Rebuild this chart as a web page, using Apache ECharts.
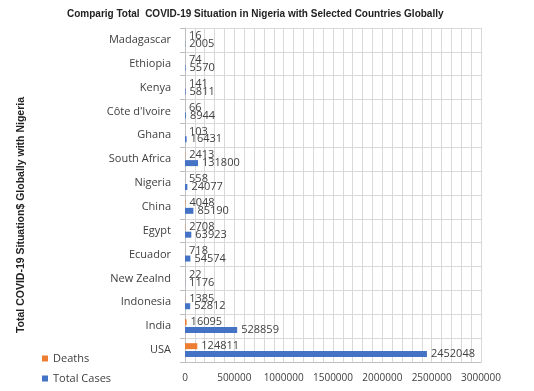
<!DOCTYPE html>
<html><head><meta charset="utf-8">
<script src="https://cdn.jsdelivr.net/npm/echarts@6/dist/echarts.min.js"></script>
<style>html,body{margin:0;padding:0;background:#fff}#c{width:534px;height:391px}</style>
</head><body><div id="c"></div>
<script>
var countries = ['USA','India','Indonesia','New Zealnd','Ecuador','Egypt','China','Nigeria','South Africa','Ghana',"Côte d'Ivoire",'Kenya','Ethiopia','Madagascar'];
var deaths = [124811,16095,1385,22,718,2708,4048,558,2413,103,66,141,74,16];
var totalCases = [2452048,528859,52812,1176,54574,63923,85190,24077,131800,16431,8944,5811,5570,2005];
var xTicks = [0,500000,1000000,1500000,2000000,2500000,3000000];

var chart = echarts.init(document.getElementById('c'));
var lbl = {show:true, position:'right', distance:4, color:'#404040', fontSize:11, fontFamily:'Open Sans'};
chart.setOption({
  animation:false,
  title:{text:'Comparig Total  COVID-19 Situation in Nigeria with Selected Countries Globally', left:62, top:4,
    textStyle:{fontSize:10, fontWeight:'bold', color:'#222', fontFamily:'Liberation Sans'}},
  legend:{orient:'vertical', left:37, top:348, itemGap:9, itemWidth:6, itemHeight:6, icon:'rect',
    data:['Deaths','Total Cases'], textStyle:{fontSize:11, color:'#404040', fontFamily:'Open Sans'}},
  grid:{left:185, right:53, top:28, bottom:29, containLabel:false},
  xAxis:{type:'value', min:xTicks[0], max:xTicks[xTicks.length-1], interval:500000,
    axisLine:{show:true, lineStyle:{color:'#bfbfbf'}}, axisTick:{show:false},
    axisLabel:{color:'#404040', fontSize:10, fontFamily:'Open Sans', margin:11, showMaxLabel:true, hideOverlap:false,
      formatter:function(v){return String(v);}},
    splitLine:{show:true, lineStyle:{color:'#d9d9d9'}},
    minorTick:{show:false, splitNumber:5},
    minorSplitLine:{show:true, lineStyle:{color:'#d9d9d9'}}},
  yAxis:{type:'category', data:countries, name:'Total COVID-19 Situation$ Globally with Nigeria',
    nameLocation:'middle', nameGap:158, nameTextStyle:{fontSize:10.5, fontWeight:'bold', color:'#222', fontFamily:'Liberation Sans', padding:[0,0,0,-40]},
    axisLine:{show:true, lineStyle:{color:'#bfbfbf'}}, axisTick:{show:true, length:5, lineStyle:{color:'#bfbfbf'}},
    axisLabel:{color:'#404040', fontSize:11, fontFamily:'Open Sans', margin:14},
    splitLine:{show:true, lineStyle:{color:'#d9d9d9'}}},
  series:[
    {name:'Deaths', type:'bar', data:deaths, barWidth:6, barGap:'30%', itemStyle:{color:'#ED7D31'}, label:lbl},
    {name:'Total Cases', type:'bar', data:totalCases, barWidth:6, barGap:'30%', itemStyle:{color:'#4472C4'}, label:lbl}
  ]
});
</script></body></html>
